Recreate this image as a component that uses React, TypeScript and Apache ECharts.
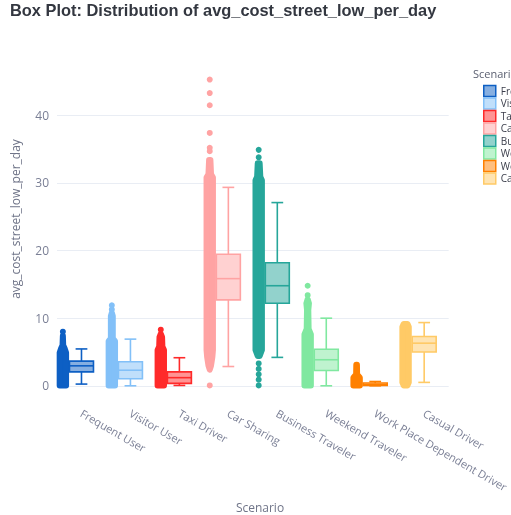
import React, { useEffect, useRef } from "react";
import * as echarts from "echarts";

const scenarios = [
  "Frequent User",
  "Visitor User",
  "Taxi Driver",
  "Car Sharing",
  "Business Traveler",
  "Weekend Traveler",
  "Work Place Dependent Driver",
  "Casual Driver",
];

const lineColors = [
  "#0d5fc4",
  "#82c0f8",
  "#ff2a2a",
  "#ffa3a3",
  "#26a69a",
  "#80e8a0",
  "#ff8000",
  "#ffca66",
];

// [lower whisker, Q1, median, Q3, upper whisker]
const boxStats = [
  [0.25, 2.05, 2.95, 3.65, 5.45],
  [0.0, 1.05, 2.3, 3.55, 6.9],
  [0.05, 0.35, 1.2, 2.05, 4.15],
  [2.85, 12.7, 15.85, 19.45, 29.35],
  [4.2, 12.2, 14.8, 18.2, 27.1],
  [0.0, 2.25, 3.85, 5.4, 10.0],
  [0.0, 0.05, 0.15, 0.4, 0.63],
  [0.5, 5.0, 6.3, 7.3, 9.35],
];

// outline of each dense point strip: [value, relative spread of the jitter]
const cloudProfiles = [
  [[0.05, 1], [4.9, 1], [5.6, 0.5], [6.0, 0.1], [7.4, 0]],
  [[0.05, 1], [6.6, 1], [7.0, 0.3], [10.3, 0.3], [10.8, 0]],
  [[0.05, 1], [5.3, 1], [5.8, 0.5], [7.2, 0.4], [7.7, 0]],
  [[2.4, 0], [3.0, 0.4], [4.2, 0.8], [5.3, 1], [30.8, 1], [31.3, 0.4], [33.4, 0.2]],
  [[4.4, 0.3], [5.3, 1], [30.4, 1], [30.9, 0.5], [32.9, 0.3]],
  [[0.05, 1], [7.6, 1], [8.4, 0.3], [11.2, 0.2], [12.2, 0.4], [12.8, 0]],
  [[0.05, 1], [1.2, 1], [1.7, 0.15], [3.1, 0.1]],
  [[0.05, 0.6], [0.5, 1], [8.7, 1], [9.15, 0.6]],
];

// isolated observations outside the dense strips
const loosePoints = [
  [8.0],
  [11.3, 11.9],
  [8.3],
  [0.05, 34.7, 35.2, 37.4, 41.5, 43.3, 45.3],
  [0.05, 0.9, 1.7, 2.5, 3.3, 33.8, 34.9],
  [13.4, 14.8],
  [],
  [],
];

const yTicks = [0, 10, 20, 30, 40];

const tickColor = "#7a7f95";
const titleColor = "#6f7488";

function withAlpha(hex: string, a: number) {
  const n = parseInt(hex.slice(1), 16);
  return `rgba(${(n >> 16) & 255},${(n >> 8) & 255},${n & 255},${a})`;
}

export default function App() {
  const ref = useRef<HTMLDivElement>(null);

  useEffect(() => {
    if (!ref.current) return;
    const chart = echarts.init(ref.current, undefined, { renderer: "svg" });

    const series = scenarios.map((name, i) => {
      const color = lineColors[i];
      const fill = withAlpha(color, 0.5);
      return {
        type: "custom",
        name,
        data: [[i, ...boxStats[i]]],
        encode: { x: 0, y: [1, 2, 3, 4, 5] },
        itemStyle: { color },
        renderItem: (_params: any, api: any) => {
          const idx = api.value(0);
          const band = api.size([1, 0])[0];
          const cx = api.coord([idx, 0])[0];
          const y = (v: number) => api.coord([idx, v])[1];
          const boxHalf = band * 0.245;
          const capHalf = band * 0.12;
          const pcx = cx - band * 0.38;
          const spread = 3.2;
          const lw = 1.6;

          const children: any[] = [];
          const prof = cloudProfiles[i];
          const left = prof.map(([v, w]) => [pcx - w * spread, y(v)]);
          const right = prof
            .slice()
            .reverse()
            .map(([v, w]) => [pcx + w * spread, y(v)]);
          children.push({
            type: "polygon",
            shape: { points: [...left, ...right] },
            style: { fill: color, stroke: color, lineWidth: 6, lineJoin: "round" },
          });
          loosePoints[i].forEach((v) =>
            children.push({
              type: "circle",
              shape: { cx: pcx, cy: y(v), r: 3 },
              style: { fill: color },
            })
          );

          const lo = y(api.value(1));
          const q1 = y(api.value(2));
          const med = y(api.value(3));
          const q3 = y(api.value(4));
          const hi = y(api.value(5));
          const lineStyle = { stroke: color, lineWidth: lw, fill: "none" };

          children.push({ type: "line", shape: { x1: cx, y1: q3, x2: cx, y2: hi }, style: lineStyle });
          children.push({ type: "line", shape: { x1: cx, y1: q1, x2: cx, y2: lo }, style: lineStyle });
          children.push({ type: "line", shape: { x1: cx - capHalf, y1: hi, x2: cx + capHalf, y2: hi }, style: lineStyle });
          children.push({ type: "line", shape: { x1: cx - capHalf, y1: lo, x2: cx + capHalf, y2: lo }, style: lineStyle });
          children.push({
            type: "rect",
            shape: { x: cx - boxHalf, y: q3, width: boxHalf * 2, height: q1 - q3 },
            style: { fill, stroke: color, lineWidth: lw },
          });
          children.push({
            type: "line",
            shape: { x1: cx - boxHalf, y1: med, x2: cx + boxHalf, y2: med },
            style: lineStyle,
          });
          return { type: "group", children };
        },
      };
    });

    chart.setOption({
      animation: false,
      textStyle: { fontFamily: "'Open Sans', sans-serif" },
      title: {
        text: "Box Plot: Distribution of avg_cost_street_low_per_day",
        left: 10,
        top: 2,
        padding: 0,
        textStyle: {
          fontFamily: "'Liberation Sans', Arial, sans-serif",
          fontSize: 16.4,
          fontWeight: "bold",
          color: "#333740",
        },
      },
      legend: {
        orient: "vertical",
        left: 483,
        top: 84.7,
        padding: 0,
        icon: "rect",
        itemWidth: 12,
        itemHeight: 11,
        itemGap: 0,
        selectedMode: false,
        textStyle: { fontSize: 10, lineHeight: 12.3, color: "#3a3d4a" },
        data: scenarios.map((name, i) => ({
          name,
          itemStyle: {
            color: withAlpha(lineColors[i], 0.5),
            borderColor: lineColors[i],
            borderWidth: 1.5,
          },
        })),
      },
      graphic: [
        {
          type: "text",
          x: 15,
          y: 219,
          rotation: Math.PI / 2,
          style: {
            text: "avg_cost_street_low_per_day",
            fill: titleColor,
            fontSize: 12,
            fontFamily: "'Open Sans', sans-serif",
            textAlign: "center",
            textVerticalAlign: "middle",
          },
        },
        {
          type: "text",
          x: 260,
          y: 507,
          style: {
            text: "Scenario",
            fill: titleColor,
            fontSize: 12,
            fontFamily: "'Open Sans', sans-serif",
            textAlign: "center",
            textVerticalAlign: "middle",
          },
        },
        {
          type: "text",
          x: 473,
          y: 73,
          style: {
            text: "Scenario",
            fill: "#5a5f70",
            fontSize: 11,
            fontFamily: "'Open Sans', sans-serif",
            textAlign: "left",
            textVerticalAlign: "middle",
          },
        },
      ],
      grid: { left: 57, right: 47.4, top: 64, bottom: 113, containLabel: false },
      xAxis: {
        type: "category",
        data: scenarios,
        axisLine: { show: false },
        axisTick: { show: false },
        splitLine: { show: false },
        axisLabel: {
          rotate: -30,
          margin: 10,
          fontSize: 11,
          color: tickColor,
          interval: 0,
        },
      },
      yAxis: {
        type: "value",
        min: -2.4,
        max: 47.6,
        splitNumber: 5,
        axisLine: { show: false },
        axisTick: { show: false },
        axisLabel: {
          fontSize: 12,
          color: tickColor,
          margin: 8,
          showMinLabel: false,
          showMaxLabel: false,
          formatter: (v: number) => (yTicks.includes(v) ? String(v) : ""),
        },
        splitLine: {
          show: true,
          showMinLine: false,
          showMaxLine: false,
          lineStyle: { color: "#e9edf4", width: 1 },
        },
      },
      series,
    });

    return () => chart.dispose();
  }, []);

  return (
    <div
      ref={ref}
      style={{ position: "fixed", left: 0, top: 0, width: 511, height: 515 }}
    />
  );
}
